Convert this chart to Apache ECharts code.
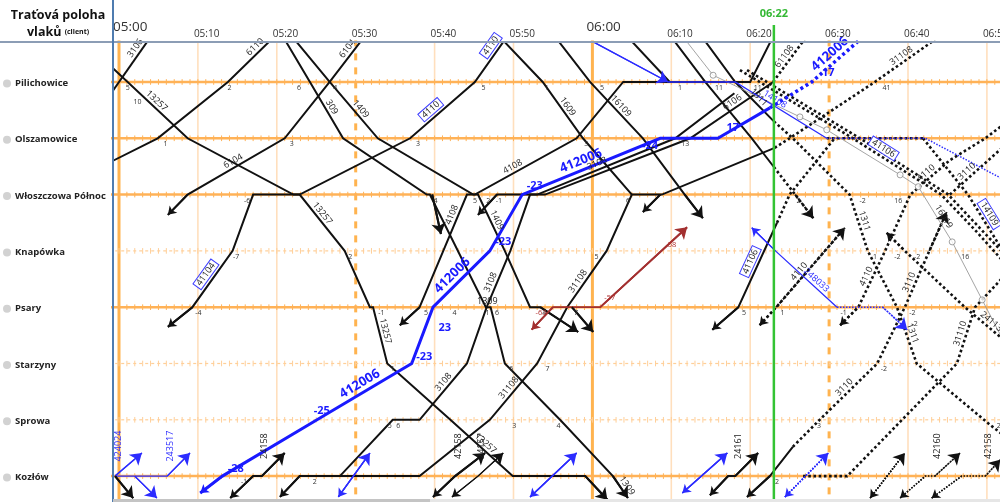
<!DOCTYPE html>
<html><head><meta charset="utf-8">
<script src="https://cdn.jsdelivr.net/npm/echarts@6/dist/echarts.min.js"></script>
<style>html,body{margin:0;padding:0;background:#fff;overflow:hidden}#c{width:1000px;height:502px}</style>
</head><body><div id="c"></div>
<script>
// ---------- axes ----------
const stations = ['Pilichowice','Olszamowice','Włoszczowa Północ','Knapówka','Psary','Starzyny','Sprowa','Kozłów'];
const majorStations = [0,1,2,4,7];
const minorStations = [3,5,6];
const tenMinuteLines = [10,20,40,50,70,80,100,110];
const hourLines = [0,60];
const halfHourLines = [30,90];
const timeLabelMinutes = [0,10,20,30,40,50,60,70,80,90,100,110];
const timeLabels = ['05:00','05:10','05:20','05:30','05:40','05:50','06:00','06:10','06:20','06:30','06:40','06:50'];
const nowMinute = 83.0;
const nowLabel = '06:22';
const xRange = [-0.76, 111.66];
const yRange = [-0.71, 7.46];

// ---------- trains (minutes after 05:00, station index) ----------
const tr3106   = [[-1.2,0.24],[4.0,-0.8]];
const tr13257  = [[-1.2,-0.3],[8.7,1],[22.1,2],[22.9,2],[28.6,3],[31.8,4],[32.2,4],[34.0,5],[42.0,6],[49.9,7],[59.1,7],[61.9,7.42]];
const tr6110   = [[-1.2,1.43],[4.9,1],[13.8,0],[19.5,-0.78]];
const tr41104  = [[6.2,4.35],[9.3,4],[14.4,3],[17.0,2],[22.9,2],[36.9,1],[45.1,0],[48.9,-0.75]];
const tr6104   = [[6.2,2.36],[8.7,2],[21.0,1],[26.7,0],[30.8,-0.75]];
const tr1309   = [[20.6,-0.85],[24.2,0],[28.4,1],[39.0,2],[39.4,2],[46.5,4],[47.1,4],[48.9,5],[55.9,6],[62.6,7],[64.5,7.39]];
const tr1409   = [[22.1,-0.78],[26.7,0],[32.8,1],[44.9,2],[45.5,2],[48.9,3],[52.1,4],[53.4,4],[58.2,4.44]];
const trPsaryStub = [[57.4,4],[60.1,4.44]];
const trWlStub = [[39.7,2],[40.8,2.7]];
const tr4108   = [[35.6,4.32],[38.1,4],[41.1,3],[44.1,2],[45.1,2],[58.0,1],[63.9,0],[80.0,0],[82.8,-0.78]];
const tr1609   = [[48.4,-0.78],[53.7,0],[58.8,1],[65.0,2]];
const tr16109  = [[55.4,-0.78],[59.7,0],[66.4,1],[71.7,2],[74.0,2.42]];
const trTop    = [[64.6,-0.78],[69.8,0]];
const trDr1    = [[70.1,-0.78],[74.3,0],[80.2,1],[83.0,1.51]];
const trDr1f   = [[83.0,1.51],[85.7,2],[88.0,2.42]];
const trWstub  = [[66.4,2.31],[68.6,2]];
const tr412006 = [[10.3,7.3],[13.1,7],[25.1,6],[37.1,5],[39.8,4],[47.0,3],[51.1,2],[68.6,1],[75.9,1],[82.5,0.46]];
const tr412006f= [[82.5,0.46],[87.8,0],[93.9,-0.75]];
const tr3108   = [[20.4,7.37],[22.9,7],[28.0,7],[34.7,6],[38.1,6],[44.1,5],[46.6,4],[49.6,3],[52.1,2],[53.0,2],[70.5,1],[78.0,0.2]];
const tr6106   = [[45.5,2.36],[47.9,2],[54.0,2],[72.4,1],[82.9,0]];
const tr6106f  = [[82.9,0],[87.0,-0.78]];
const tr31108  = [[22.9,7],[38.1,7],[47.0,6],[53.0,5],[56.8,4],[61.8,3],[65.0,2],[68.8,2],[83.1,1.17]];
const tr31108f = [[83.1,1.17],[85.0,1],[95.8,0],[103.4,-0.75]];
const tr41106  = [[75.2,4.4],[78.5,4],[83.4,2.5]];
const tr41106f = [[83.4,2.5],[85.0,2],[90.7,1]];
const tr3110   = [[79.6,7.37],[82.5,7],[85.4,6.48]];
const tr3110f  = [[85.4,6.48],[88.8,6],[96.1,5],[99.6,4],[102.7,3],[104.9,2.31]];
const tr3110b  = [[105.3,2],[112.9,1.05]];
const tr4110   = [[81.2,4.32],[83.3,4],[92.0,2.59]];
const tr4110b  = [[91.4,4.32],[93.7,4],[97.1,3],[100.3,2],[105.3,1.39],[109.8,1],[112.9,0.67]];
const tr1311   = [[74.0,-0.78],[78.1,0],[83.0,0.7]];
const tr1311f  = [[83.0,0.7],[85.4,1],[92.6,2],[94.9,3],[98.6,4],[101.1,5],[110.4,6.09],[112.9,6.36]];
const trBundle1= [[78.7,-0.21],[81.2,0],[93.0,1],[104.2,2],[108.5,2.63],[111.9,3.16]];
const trBundle2= [[79.6,-0.21],[82.1,0],[93.9,1],[105.1,2],[112.3,3.07]];
const tr14109  = [[101.9,1],[107.6,2],[112.9,3.2]];
const trOlszf  = [[89.7,1],[101.9,1]];
const tr24113f = [[97.3,2.68],[99.6,3],[107.2,4],[112.9,4.67]];
const tr31110f = [[86.7,7],[92.3,7],[106.2,5],[108.5,4],[112.9,3.34]];
const trGrey   = [[72.0,-0.71],[75.3,-0.12],[86.3,0.62],[89.7,0.85],[99.0,1.65],[101.3,1.86],[105.6,2.84],[109.4,3.87],[111.7,4.49]];
const trBlueA  = [[59.2,-0.78],[69.6,0]];
const trBlueB  = [[69.6,0],[78.1,0],[89.7,1]];
const trBlueBf = [[89.7,1],[102.2,1],[112.9,1.79]];
const tr248033 = [[80.2,2.59],[83.2,3],[91.0,4]];
const tr248033f= [[91.0,4],[96.8,4],[99.9,4.4]];
const tr629000 = [[52.3,4.4],[55.0,4],[61.0,4],[72.0,2.58]];
const tr424024 = [[-0.5,7],[2.9,6.59]];
const tr243517 = [[-0.5,7],[6.1,7],[9.0,6.59]];
const trBlueC  = [[2.0,7],[4.8,7.39]];
const trKozA   = [[-0.5,7],[1.8,7.39]];
const tr24158  = [[14.1,7.39],[17.0,7],[18.1,7],[21.0,6.59]];
const tr144255 = [[27.8,7.37],[31.8,6.59]];
const tr42158  = [[39.8,7.37],[42.6,7],[46.4,6.59]];
const tr24157  = [[42.2,7.37],[45.5,7],[48.7,6.59]];
const tr424026 = [[52.1,7.37],[58.0,6.59]];
const tr413058 = [[71.4,7.3],[77.1,6.59]];
const tr24161  = [[74.9,7.34],[77.2,7],[78.1,7],[81.0,6.59]];
const tr144257f= [[84.4,7.37],[89.9,6.59]];
const tr24931f = [[95.2,7.39],[99.6,6.59]];
const tr42160f = [[99.0,7.39],[102.2,7],[103.4,7],[106.6,6.59]];
const tr42158f = [[103.0,7.39],[106.8,7],[109.8,7],[111.7,6.71]];

// name, points, style, arrowStart, arrowEnd
const trains = [
  ['3106', tr3106, 'k', 0, 0], ['13257', tr13257, 'k', 0, 1], ['6110', tr6110, 'k', 0, 0],
  ['41104', tr41104, 'k', 1, 0], ['6104', tr6104, 'k', 1, 0], ['1309', tr1309, 'k', 0, 1],
  ['1409', tr1409, 'k', 0, 1], ['psStub', trPsaryStub, 'k', 0, 1], ['wlStub', trWlStub, 'k', 0, 1],
  ['4108', tr4108, 'k', 1, 0], ['1609', tr1609, 'k', 0, 0], ['16109', tr16109, 'k', 0, 1], ['top', trTop, 'k', 0, 0],
  ['dr1', trDr1, 'k', 0, 0], ['dr1f', trDr1f, 'kd', 0, 1], ['wstub', trWstub, 'k', 1, 0],
  ['3108', tr3108, 'k', 1, 0], ['6106', tr6106, 'k', 1, 0], ['6106f', tr6106f, 'kd', 0, 0],
  ['31108', tr31108, 'k', 0, 0], ['31108f', tr31108f, 'kd', 0, 0],
  ['41106', tr41106, 'k', 1, 0], ['41106f', tr41106f, 'kd', 0, 0],
  ['3110', tr3110, 'k', 1, 0], ['3110f', tr3110f, 'kd', 0, 1], ['3110b', tr3110b, 'kd', 0, 0],
  ['4110', tr4110, 'kd', 1, 1], ['4110b', tr4110b, 'kd', 1, 0],
  ['1311', tr1311, 'k', 0, 0], ['1311f', tr1311f, 'kd', 0, 0],
  ['bu1', trBundle1, 'kd', 0, 0], ['bu2', trBundle2, 'kd', 0, 0], ['14109', tr14109, 'kd', 0, 0],
  ['olsz', trOlszf, 'kd', 0, 0], ['24113', tr24113f, 'kd', 1, 0],
  ['31110', tr31110f, 'kd', 0, 0], ['grey', trGrey, 'g', 0, 0],
  ['412006', tr412006, 'B', 1, 0], ['412006f', tr412006f, 'Bd', 0, 0],
  ['bA', trBlueA, 'b', 0, 1], ['bB', trBlueB, 'b', 0, 0], ['bBf', trBlueBf, 'bd', 0, 0],
  ['248033', tr248033, 'b', 1, 0], ['248033f', tr248033f, 'bd', 0, 1],
  ['629000', tr629000, 'r', 1, 1],
  ['424024', tr424024, 'b', 0, 1], ['243517', tr243517, 'b', 0, 1], ['bC', trBlueC, 'b', 0, 1],
  ['kA', trKozA, 'k', 0, 1], ['24158', tr24158, 'k', 1, 1], ['144255', tr144255, 'b', 1, 1],
  ['42158', tr42158, 'k', 1, 1], ['24157', tr24157, 'kt', 1, 1], ['424026', tr424026, 'b', 1, 1],
  ['413058', tr413058, 'b', 1, 1], ['24161', tr24161, 'k', 1, 1], ['144257', tr144257f, 'bd', 1, 1],
  ['24931', tr24931f, 'kdt', 1, 1], ['42160', tr42160f, 'kdt', 1, 1], ['42158f', tr42158f, 'kdt', 1, 1]
];

// text, points, segment, fraction, kind
const trainLabels = [
  ['3106', tr3106, 0, 0.75, 'n'], ['13257', tr13257, 0, 0.55, 'n'], ['6110', tr6110, 2, 0.7, 'n'],
  ['41104', tr41104, 1, 0.5, 'box'], ['4110', tr41104, 5, 0.4, 'box'], ['4110', tr41104, 6, 0.75, 'box'],
  ['6104', tr6104, 1, 0.5, 'n'], ['6104', tr6104, 3, 0.7, 'n'],
  ['13257', tr13257, 3, 0.4, 'n'], ['13257', tr13257, 6, 0.45, 'n'], ['13257', tr13257, 8, 0.5, 'n'],
  ['1309', tr1309, 5, 0.3, 'n'], ['1309', tr1309, 9, 0.6, 'n'], ['309', tr1309, 1, 0.5, 'n'],
  ['1409', tr1409, 1, 0.55, 'n'], ['1409', tr1409, 4, 0.5, 'n'],
  ['4108', tr4108, 2, 0.6, 'n'], ['4108', tr4108, 4, 0.4, 'n'], ['4108', tr4108, 8, 0.5, 'n'],
  ['1609', tr1609, 1, 0.5, 'n'], ['16109', tr16109, 1, 0.5, 'n'],
  ['3108', tr3108, 4, 0.6, 'n'], ['3108', tr3108, 6, 0.4, 'n'], ['3108', tr3108, 9, 0.45, 'n'],
  ['6106', tr6106, 3, 0.55, 'n'], ['61108', tr6106f, 0, 0.5, 'n'],
  ['31108', tr31108, 2, 0.5, 'n'], ['31108', tr31108, 4, 0.4, 'n'], ['31108', tr31108, 8, 0.55, 'n'], ['31108', tr31108f, 2, 0.5, 'n'],
  ['41106', tr41106, 1, 0.5, 'box'], ['41106', trBundle1, 2, 0.3, 'box'],
  ['3110', tr3110f, 1, 0.5, 'n'], ['3110', tr3110f, 3, 0.4, 'n'], ['3110', tr3110b, 0, 0.35, 'n'],
  ['4110', tr4110, 1, 0.4, 'n'], ['4110', tr4110b, 1, 0.5, 'n'], ['4110', tr4110b, 3, 0.5, 'n'],
  ['1311', tr1311, 1, 0.5, 'n'], ['1311', tr1311f, 2, 0.5, 'n'], ['1311', tr1311f, 4, 0.5, 'n'],
  ['24113', tr24113f, 2, 0.5, 'n'], ['31110', tr31110f, 2, 0.5, 'n'],
  ['16019', trGrey, 5, 0.6, 'n'], ['14109', tr14109, 1, 0.35, 'box'],
  ['412006', tr412006, 2, 0.5, 'B'], ['412006', tr412006, 4, 0.45, 'B'], ['412006', tr412006, 6, 0.45, 'B'], ['412006', tr412006f, 1, 0.5, 'B'],
  ['629000', tr629000, 3, 0.4, 'r'], ['248033', tr248033, 1, 0.6, 'b'], ['14108', trBlueB, 1, 0.4, 'b'],
  ['424024', tr424024, 0, 0, 'bv'], ['243517', tr243517, 1, 0, 'bv'], ['144255', tr144255, 1, 0, 'bv'],
  ['424026', tr424026, 1, 0, 'bv'], ['413058', tr413058, 1, 0, 'bv'], ['144257', tr144257f, 1, 0, 'bv'],
  ['24158', tr24158, 2, 0, 'kv'], ['42158', tr42158, 1, 0, 'kv'], ['24157', tr24157, 1, 0, 'kv'], ['24161', tr24161, 2, 0, 'kv'],
  ['24931', tr24931f, 1, 0, 'kv'], ['42160', tr42160f, 2, 0, 'kv'], ['42158', tr42158f, 2, 0, 'kv']
];

// small delay figures at stations: text, minute, station
const delayMarks = [
  ['5',0.6,0],['10',1.6,0.25],['2',13.5,0],['6',22.3,0],['4',26.9,0],['5',45.7,0],['1',53.7,0],['5',60.7,0],['1',70.6,0],['11',75.3,0],['11',80.2,0],['41',96.5,0],
  ['1',5.4,1],['3',21.4,1],['3',37.4,1],['3',58.7,1],['13',71.0,1],
  ['-6',15.6,2],['4',39.6,2],['2',46.3,2],['-1',47.5,2],['5',44.6,2],['6',64.0,2],['2',85.6,2],['-2',93.6,2],['16',98.0,2],
  ['-7',14.2,3],['2',28.8,3],['5',60.0,3],['1',95.3,3],['-2',98.0,3],['-2',100.5,3],['16',106.5,3],
  ['-4',9.4,4],['-1',32.6,4],['5',38.4,4],['4',42.0,4],['1',46.2,4],['6',47.4,4],['4',53.4,4],['7',57.4,4],['5',78.7,4],['1',83.6,4],['-1',91.2,4],['-2',99.9,4],['-2',100.2,4.2],
  ['1',34.2,5],['6',49.2,5],['7',53.8,5],['-2',96.3,5],
  ['5',33.8,6],['3',49.6,6],['6',34.9,6],['4',55.2,6],['3',88.2,6],['2',111.0,6],
  ['-1',15.2,7],['2',24.3,7],['2',82.9,7]
];
// bold delay figures on the highlighted train: text, minute, station
const blueMarks = [['-28',14.8,6.87],['-25',25.7,5.84],['-23',38.7,4.88],['23',41.3,4.37],['-23',48.7,2.84],['-23',52.7,1.85],['-24',67.3,1.14],['17',77.8,0.82],['17',89.9,-0.16]];
const redMarks = [['-63',53.5,4.1],['-57',62.2,3.84],['58',70.1,2.9]];

const styles = {
  k:  {color:'#111', width:2},
  kt: {color:'#111', width:1.2},
  B:  {color:'#1a1aff', width:3},
  Bd: {color:'#1a1aff', width:3.5, type:[3,3]},
  b:  {color:'#2c2cff', width:1.3},
  bd: {color:'#2c2cff', width:1.5, type:[1.5,1.5]},
  kd: {color:'#111', width:2.6, type:[2.6,2.6]},
  kdt:{color:'#111', width:1.5, type:[1.5,1.5]},
  g:  {color:'#9a9a9a', width:0.9},
  r:  {color:'#a33030', width:1.8}
};

const chart = echarts.init(document.getElementById('c'));
function L(coords, ls, z){
  return {type:'lines', coordinateSystem:'cartesian2d', polyline:true, clip:true, silent:true, z:z||2,
    lineStyle:Object.assign({opacity:1}, ls), data: coords.map(c=>({coords:c})), symbol:'none'};
}
const series = [];
series.push(L(tenMinuteLines.map(m=>[[m,-2],[m,9]]), {color:'#ffdfbd', width:1.6}, 1));
series.push(L(hourLines.map(m=>[[m,-2],[m,9]]), {color:'#ffb34f', width:3}, 1));
series.push(L(halfHourLines.map(m=>[[m,-2],[m,9]]), {color:'#ffb34f', width:3, type:[7,7]}, 1));
series.push(L(majorStations.map(s=>[[-2,s],[115,s]]), {color:'#ffb257', width:2.5}, 1));
series.push(L(minorStations.map(s=>[[-2,s],[115,s]]), {color:'#ffcf99', width:1.2, type:[3,3]}, 1));
const tickCoords = [], tickCoordsMinor = [];
for (const s of majorStations) for (let m=0;m<=112;m++) tickCoords.push([[m,s-0.05],[m,s+0.05]]);
for (const s of minorStations) for (let m=0;m<=112;m++) tickCoordsMinor.push([[m,s-0.05],[m,s+0.05]]);
series.push(L(tickCoords, {color:'#ffb257', width:1}, 1));
series.push(L(tickCoordsMinor, {color:'#ffcf99', width:1}, 1));
for (const [name, pts, st] of trains) series.push(L([pts], styles[st], 5));
series.push({type:'scatter', silent:true, z:6, symbol:'circle', symbolSize:6, data:trGrey.slice(1,-1),
  itemStyle:{color:'#fff', borderColor:'#8a8a8a', borderWidth:1}});
const endArrows = [], startArrows = [];
for (const [name, pts, st, a0, a1] of trains) {
  const w = Math.min(styles[st].width, 2);
  if (a0) startArrows.push({coords:[pts[0], pts[1]], lineStyle:{color:styles[st].color, width:w, type:styles[st].type||'solid'}});
  if (a1) endArrows.push({coords:[pts[pts.length-2], pts[pts.length-1]], lineStyle:{color:styles[st].color, width:w, type:styles[st].type||'solid'}});
}
series.push({type:'lines', coordinateSystem:'cartesian2d', clip:true, silent:true, z:6, symbol:['none','arrow'], symbolSize:[8,11], data:endArrows, lineStyle:{opacity:1}});
series.push({type:'lines', coordinateSystem:'cartesian2d', clip:true, silent:true, z:6, symbol:['arrow','none'], symbolSize:[8,11], data:startArrows, lineStyle:{opacity:1}});

chart.setOption({
  animation:false,
  grid:{left:113, right:0, top:42, bottom:0},
  xAxis:{type:'value', min:xRange[0], max:xRange[1], position:'top', axisLine:{show:false}, axisTick:{show:false}, axisLabel:{show:false}, splitLine:{show:false}},
  yAxis:{type:'value', min:yRange[0], max:yRange[1], inverse:true, axisLine:{show:false}, axisTick:{show:false}, axisLabel:{show:false}, splitLine:{show:false}},
  series
});

// ---------- graphics ----------
function px(p){ return chart.convertToPixel({gridIndex:0}, p); }
const FONT = '"Open Sans", "Noto Sans", sans-serif';
const g = [];
g.push({type:'line', shape:{x1:0,y1:42,x2:1000,y2:42}, style:{stroke:'#8c9db5', lineWidth:2}, z:20});
g.push({type:'line', shape:{x1:113,y1:0,x2:113,y2:502}, style:{stroke:'#4f7cb0', lineWidth:2}, z:20});
g.push({type:'text', x:58, y:15, style:{text:'Traťová poloha', fontSize:12.5, fontWeight:'bold', fontFamily:FONT, fill:'#111', align:'center', verticalAlign:'middle'}, z:20});
g.push({type:'text', x:58, y:32, style:{text:'vlaků {s|(client)}', rich:{s:{fontSize:7, fontWeight:'bold', fontFamily:FONT, fill:'#111'}}, fontSize:12.5, fontWeight:'bold', fontFamily:FONT, fill:'#111', align:'center', verticalAlign:'middle'}, z:20});
stations.forEach((n,i)=>{
  const y = px([0,i])[1];
  g.push({type:'circle', shape:{cx:7, cy:y+1.5, r:4}, style:{fill:'#d2d2d2'}, z:20});
  g.push({type:'text', x:15, y:y+1.5, style:{text:n, fontSize:9.5, fontWeight:'bold', fontFamily:FONT, fill:'#222', align:'left', verticalAlign:'middle'}, z:20});
});
timeLabelMinutes.forEach((m,i)=>{
  const x = px([m,0])[0];
  const hour = (m%60===0);
  g.push({type:'text', x:x-(hour?6:4), y:hour?27:34, style:{text:timeLabels[i], fontSize:hour?13.5:10, fontFamily:FONT, fill:'#333', align:'left', verticalAlign:'middle'}, z:19});
});
const nx = px([nowMinute,0])[0];
g.push({type:'line', shape:{x1:nx,y1:25,x2:nx,y2:502}, style:{stroke:'#33c333', lineWidth:2.5}, z:18});
g.push({type:'text', x:nx, y:14, style:{text:nowLabel, fontSize:11, fontWeight:'bold', fontFamily:FONT, fill:'#33b833', align:'center', verticalAlign:'middle'}, z:20});
g.push({type:'rect', shape:{x:113,y:499,width:887,height:3}, style:{fill:'#e6e6e6'}, z:20});
g.push({type:'rect', shape:{x:113,y:499,width:317,height:3}, style:{fill:'#c4c4c4'}, z:21});

function norm(r){ while(r>Math.PI/2) r-=Math.PI; while(r<=-Math.PI/2) r+=Math.PI; return r; }
const kinds = {
  n:  {fontSize:9, fill:'#222', off:6},
  B:  {fontSize:13, fill:'#1a1aff', fontWeight:'bold', off:9},
  b:  {fontSize:9, fill:'#2c2cff', off:6},
  bv: {fontSize:9, fill:'#2c2cff', vertical:true},
  kv: {fontSize:9, fill:'#222', vertical:true},
  r:  {fontSize:9, fill:'#a33030', off:6},
  box:{fontSize:9, fill:'#222', off:8, box:true}
};
for (const [text, pts, seg, frac, kind] of trainLabels) {
  if (seg+1 >= pts.length) continue;
  const a = px(pts[seg]), b = px(pts[seg+1]);
  const k = kinds[kind];
  let x, y, r;
  if (k.vertical) { x = a[0]+3; y = a[1]-30; r = Math.PI/2; }
  else {
    x = a[0]+(b[0]-a[0])*frac; y = a[1]+(b[1]-a[1])*frac;
    r = norm(Math.atan2(-(b[1]-a[1]), b[0]-a[0]));
    x -= k.off*Math.sin(r); y -= k.off*Math.cos(r);
  }
  const style = {text, fontSize:k.fontSize, fontFamily:FONT, fill:k.fill, fontWeight:k.fontWeight||'normal', align:'center', verticalAlign:'middle'};
  if (k.box) Object.assign(style, {backgroundColor:'#fff', borderColor:'#3b3bff', borderWidth:1, padding:[0,2]});
  g.push({type:'text', x, y, rotation:r, style, z:15});
}
for (const [text, m, s] of delayMarks) {
  const p = px([m, s]);
  if (p[0] > 1000) continue;
  g.push({type:'text', x:p[0]+2, y:p[1]+6, style:{text, fontSize:7, fontFamily:FONT, fill:'#333', align:'left', verticalAlign:'middle'}, z:14});
}
for (const [text, m, s] of blueMarks) {
  const p = px([m, s]);
  g.push({type:'text', x:p[0], y:p[1], style:{text, fontSize:11, fontWeight:'bold', fontFamily:FONT, fill:'#1a1aff', align:'center', verticalAlign:'middle'}, z:16});
}
for (const [text, m, s] of redMarks) {
  const p = px([m, s]);
  g.push({type:'text', x:p[0], y:p[1], style:{text, fontSize:7.5, fontFamily:FONT, fill:'#b03030', align:'center', verticalAlign:'middle'}, z:16});
}
chart.setOption({graphic:g});
</script></body></html>
